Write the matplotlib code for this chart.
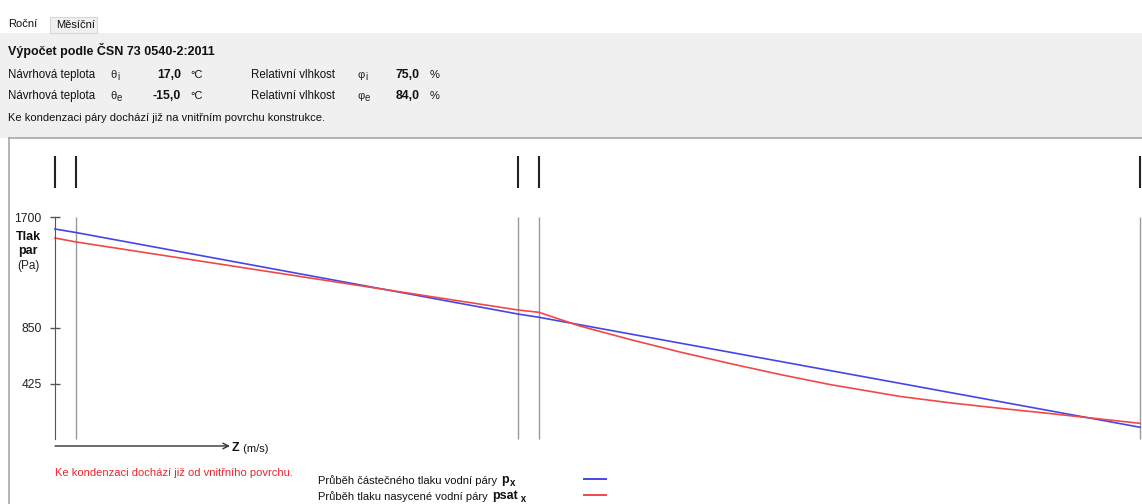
import matplotlib.pyplot as plt
from matplotlib.patches import Rectangle

# ------------------------
# Data
# ------------------------
# position through the wall (layer interfaces), interior side at 0
boundaries_z = [0, 21, 463, 484, 1085]

# partial water vapour pressure p_x at the interfaces (Pa)
p_x = [1608, 1581, 957, 932, 90]

# saturated water vapour pressure psat_x along the wall (Pa)
psat_z = [0, 21, 463, 484, 525, 575, 625, 675, 725, 775, 845, 895, 945, 995, 1025, 1085]
psat_x = [1539, 1509, 988, 970, 865, 762, 666, 578, 494, 417, 326, 277, 235, 195, 170, 120]

y_ticks = [425, 850, 1700]
theta_i, theta_e = "17,0", "-15,0"
phi_i, phi_e = "75,0", "84,0"

BLUE = "#4646e6"
RED = "#f04848"
FONT = "Liberation Sans"
FS = 8

plt.rcParams["font.family"] = [FONT, "DejaVu Sans"]

W, H = 1142, 504
fig = plt.figure(figsize=(W / 100, H / 100), dpi=100)

# background layer in pixel coordinates (origin top-left)
bg = fig.add_axes([0, 0, 1, 1])
bg.set_xlim(0, W)
bg.set_ylim(H, 0)
bg.axis("off")

bg.add_patch(Rectangle((0, 33), W, 105, fc="#f0f0f0", ec="none"))
bg.add_patch(Rectangle((50, 17), 47, 16, fc="#f0f0f0", ec="#d8d8d8", lw=0.8))
bg.plot([9, W], [138, 138], color="#a8a8a8", lw=1.2)
bg.plot([9, 9], [138, H], color="#a8a8a8", lw=1.2)


def chain(x, y, parts, **kw):
    """Write text pieces one after another, each piece = (text, props, dy)."""
    s0, p0, _ = parts[0]
    t = bg.text(x, y, s0, va="baseline", **{"fontsize": FS, **kw, **p0})
    for s, props, dy in parts[1:]:
        opts = {"fontsize": FS, **kw, **props}
        t = bg.annotate(s, xy=(1, 0), xycoords=t, xytext=(0.6, dy),
                        textcoords="offset points", va="bottom", **opts)
    return t


# tabs
bg.text(8, 27, "Roční", fontsize=FS, va="baseline", color="#111")
bg.text(56, 28, "Měsíční", fontsize=FS, va="baseline", color="#111")

# header
bg.text(8, 55, "Výpočet podle ČSN 73 0540-2:2011", fontsize=FS + 1,
        fontweight="bold", va="baseline", color="#111")

rows = [(78, "i", theta_i, phi_i), (99, "e", theta_e, phi_e)]
for y, sub, theta, phi in rows:
    bg.text(8, y, "Návrhová teplota", fontsize=FS + 0.3, va="baseline", color="#111")
    chain(110, y, [("θ", {}, 0), (sub, {"fontsize": FS - 1}, -1.5)], color="#222")
    bg.text(181, y, theta, fontsize=FS + 0.8, fontweight="bold", ha="right",
            va="baseline", color="#111")
    bg.text(190, y, "°C", fontsize=FS, va="baseline", color="#111")
    bg.text(251, y, "Relativní vlhkost", fontsize=FS + 0.3, va="baseline", color="#111")
    chain(357, y, [("φ", {}, 0), (sub, {"fontsize": FS - 1}, -1.5)], color="#222")
    bg.text(420, y, phi, fontsize=FS + 0.8, fontweight="bold", ha="right",
            va="baseline", color="#111")
    bg.text(430, y, "%", fontsize=FS, va="baseline", color="#111")

bg.text(8, 121, "Ke kondenzaci páry dochází již na vnitřním povrchu konstrukce.",
        fontsize=FS, va="baseline", color="#111")

# ------------------------
# Pressure plot
# ------------------------
ax = fig.add_axes([55 / W, 65 / H, 1085 / W, 289 / H])
ax.patch.set_alpha(0)
ax.set_xlim(0, 1085)
ax.set_ylim(0, 289 * 850 / 111)

for side in ["top", "right", "bottom"]:
    ax.spines[side].set_visible(False)
ax.spines["left"].set_bounds(0, 1700)
ax.spines["left"].set_color("#555555")
ax.set_xticks([])
ax.set_yticks(y_ticks)
ax.set_yticklabels([str(v) for v in y_ticks])
ax.tick_params(axis="y", direction="inout", length=7, width=1, colors="#555555",
               labelcolor="#222222", labelsize=FS + 0.7, pad=6)

# layer interfaces
ax.vlines(boundaries_z[1:], 0, 1700, color="#9a9a9a", lw=1, clip_on=False)
ax.vlines(boundaries_z, 0.869, 0.979, transform=ax.get_xaxis_transform(),
          color="#222222", lw=1.5, clip_on=False)

ax.plot(boundaries_z, p_x, color=BLUE, lw=1.2, clip_on=False)
ax.plot(psat_z, psat_x, color=RED, lw=1.2, clip_on=False)

# y label
bg.text(28, 240, "Tlak", fontsize=FS + 1, fontweight="bold", ha="center", va="baseline", color="#111")
bg.text(28, 254, "par", fontsize=FS + 1, fontweight="bold", ha="center", va="baseline", color="#111")
bg.text(28, 269, "(Pa)", fontsize=FS + 0.5, ha="center", va="baseline", color="#222")

# z axis arrow
bg.annotate("", xy=(230, 446), xytext=(55, 446),
            arrowprops=dict(arrowstyle="->", color="#333333", lw=1, shrinkA=0, shrinkB=0))
chain(232, 451, [("Z", {"fontweight": "bold", "fontsize": FS + 1}, 0), (" (m/s)", {}, 0)],
      color="#111")

# notes and legend
bg.text(55, 476, "Ke kondenzaci dochází již od vnitřního povrchu.", fontsize=FS,
        va="baseline", color="#e8262e")
chain(318, 484, [("Průběh částečného tlaku vodní páry ", {}, 0),
                 ("p", {"fontweight": "bold", "fontsize": FS + 1}, 0),
                 ("x", {"fontweight": "bold", "fontsize": FS - 1}, -1.5)], color="#111")
chain(318, 500, [("Průběh tlaku nasycené vodní páry ", {}, 0),
                 ("psat", {"fontweight": "bold", "fontsize": FS + 1}, 0),
                 (" x", {"fontweight": "bold", "fontsize": FS - 1}, -1.5)], color="#111")
bg.plot([584, 606], [479, 479], color=BLUE, lw=1.4)
bg.plot([584, 606], [495, 495], color=RED, lw=1.4)

fig.savefig("out.png", dpi=100)
